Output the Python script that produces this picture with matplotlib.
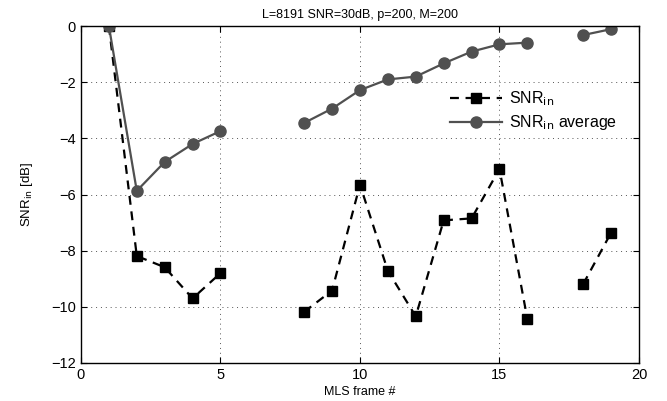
import numpy as np
import matplotlib
matplotlib.use("Agg")
import matplotlib.pyplot as plt

plt.rcParams['font.family'] = ['Liberation Sans', 'DejaVu Sans']

frames = [1, 2, 3, 4, 5, 6, 7, 8, 9, 10, 11, 12, 13, 14, 15, 16, 17, 18, 19]
snr_in = [0.0, -8.19, -8.59, -9.70, -8.80, np.nan, np.nan, -10.18, -9.42, -5.65,
          -8.72, -10.34, -6.92, -6.85, -5.09, -10.44, np.nan, -9.19, -7.36]
snr_avg = [0.0, -5.87, -4.84, -4.20, -3.74, np.nan, np.nan, -3.45, -2.94, -2.28,
           -1.90, -1.80, -1.33, -0.91, -0.65, -0.59, np.nan, -0.32, -0.11]
xticks = [0, 5, 10, 15, 20]
yticks = [-12, -10, -8, -6, -4, -2, 0]

fig = plt.figure(figsize=(6.67, 4.01), dpi=100)
ax = fig.add_axes([0.1214, 0.0948, 0.8366, 0.8402])

ax.plot(frames, snr_in, linestyle=(0, (4, 3)), color='black', lw=1.6,
        marker='s', markersize=7, markerfacecolor='black', markeredgecolor='black',
        label=r'SNR$_{\mathrm{in}}$')
ax.plot(frames, snr_avg, linestyle='-', color='#505050', lw=1.6,
        marker='o', markersize=8, markerfacecolor='#505050', markeredgecolor='#505050',
        label=r'SNR$_{\mathrm{in}}$ average')

ax.set_xlim(0, 20)
ax.set_ylim(-12, 0)
ax.set_xticks(xticks)
ax.set_yticks(yticks)
ax.set_yticklabels([('\u2212%d' % -v) if v < 0 else '%d' % v for v in yticks])
ax.tick_params(direction='in', top=True, right=True, labelsize=10.5, length=4, width=0.8)
ax.grid(True, linestyle=(0, (1, 4)), color='#555555', lw=0.7)
for s in ax.spines.values():
    s.set_linewidth(1.0)

ax.set_xlabel('MLS frame #', fontsize=9, labelpad=3)
ax.set_ylabel(r'SNR$_{\mathrm{in}}$ [dB]', fontsize=9.5, labelpad=12)
ax.set_title('L=8191 SNR=30dB, p=200, M=200', fontsize=9, pad=6)

leg = ax.legend(loc='upper right', bbox_to_anchor=(0.973, 0.83), frameon=False,
                fontsize=11.5, handlelength=3.25, labelspacing=0.3, handletextpad=0.45,
                borderaxespad=0.0)

fig.savefig('out.png', dpi=100)
